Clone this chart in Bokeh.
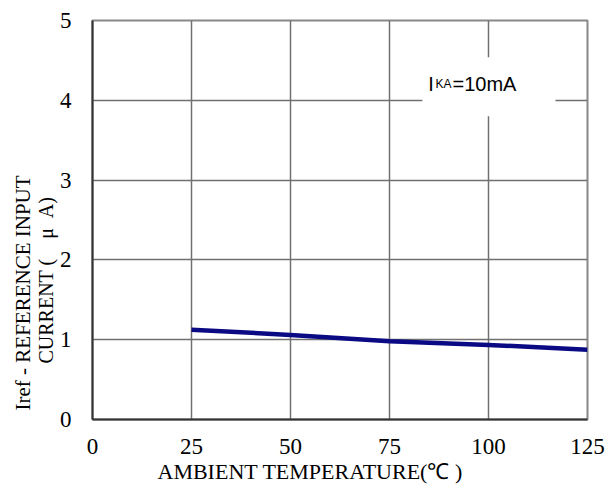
from bokeh.plotting import figure
from bokeh.models import Range1d, FixedTicker, Label, BoxAnnotation, Title
from bokeh.embed import file_html
from bokeh.resources import INLINE

# ---- data ----
temps = [25, 50, 75, 100, 125]
iref = [1.125, 1.06, 0.98, 0.935, 0.875]
x_ticks = [0, 25, 50, 75, 100, 125]
y_ticks = [0, 1, 2, 3, 4, 5]
x_label = "AMBIENT TEMPERATURE(\u2103 )"
y_label_1 = "Iref - REFERENCE INPUT"
y_label_2 = "CURRENT (\u00a0\u00a0\u00a0 \u03bc\u00a0 A)"
note_main = "I"
note_sub = "KA"
note_rest = "=10mA"

SERIF = "Liberation Serif"
SANS = "Liberation Sans"

p = figure(width=615, height=497, output_backend="svg", toolbar_location=None,
           x_range=Range1d(0, 125), y_range=Range1d(0, 5),
           min_border_left=92, min_border_right=28, min_border_top=20, min_border_bottom=78)
p.background_fill_color = "white"
p.border_fill_color = "white"
p.outline_line_color = "#888888"
p.outline_line_width = 2

for ax in (p.xaxis, p.yaxis):
    ax.major_tick_line_color = None
    ax.minor_tick_line_color = None
    ax.axis_line_color = "#333333"
    ax.axis_line_width = 2
    ax.major_label_text_font = SERIF
    ax.major_label_text_font_size = "23px"
    ax.major_label_text_color = "black"

p.xaxis.ticker = FixedTicker(ticks=x_ticks)
p.yaxis.ticker = FixedTicker(ticks=y_ticks)
p.xaxis.major_label_standoff = 13
p.yaxis.major_label_standoff = 15

p.grid.grid_line_color = "#707070"
p.grid.grid_line_width = 1.5

p.line(temps, iref, line_color="#0a0a85", line_width=4.5)

# note box hiding grid
p.add_layout(BoxAnnotation(left=83.3, right=116.9, bottom=3.8, top=4.54,
                           fill_color="white", fill_alpha=1.0, line_color=None))
p.add_layout(Label(x=84.8, y=4.21, text=note_main, text_font=SANS, text_font_size="20px",
                   text_baseline="alphabetic", text_align="left", text_color="black"))
p.add_layout(Label(x=86.6, y=4.205, text=note_sub, text_font=SANS, text_font_size="12px",
                   text_baseline="alphabetic", text_align="left", text_color="black"))
p.add_layout(Label(x=90.9, y=4.21, text=note_rest, text_font=SANS, text_font_size="20px",
                   text_baseline="alphabetic", text_align="left", text_color="black"))

# axis titles
p.add_layout(Title(text=x_label, align="left", offset=65, standoff=0,
                   text_font=SERIF, text_font_size="22px", text_font_style="normal",
                   text_color="black"), "below")
p.add_layout(Title(text=y_label_2, align="left", offset=56, standoff=-1,
                   text_font=SERIF, text_font_size="20px", text_font_style="normal",
                   text_color="black"), "left")
p.add_layout(Title(text=y_label_1, align="left", offset=9, standoff=-2,
                   text_font=SERIF, text_font_size="21px", text_font_style="normal",
                   text_color="black"), "left")

open("out.html", "w").write(file_html(p, INLINE))
